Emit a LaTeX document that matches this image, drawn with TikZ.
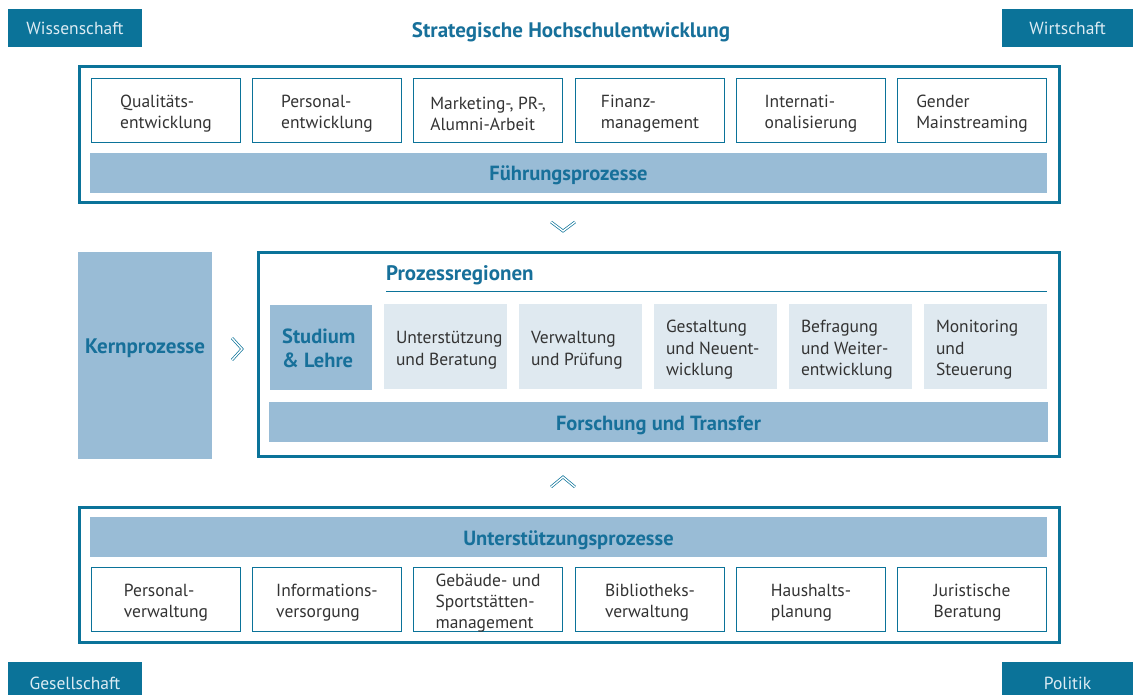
\documentclass[tikz,border=0pt]{standalone}
\usepackage{fontspec}
\setmainfont{PT Sans}
\definecolor{teal1}{HTML}{0B7399}
\definecolor{lblue}{HTML}{99BCD6}
\definecolor{llblue}{HTML}{DFE9F0}
\definecolor{txt}{HTML}{333333}
\definecolor{head}{HTML}{17709A}
\definecolor{lbltxt}{HTML}{DCEBF3}
\tikzset{
  lbl/.style={fill=teal1, text=lbltxt, minimum width=134pt, minimum height=38pt, anchor=north west, inner sep=0pt, outer sep=0pt, font=\fontsize{17.5}{21}\selectfont},
  wbox/.style={draw=teal1, line width=1pt, fill=white, minimum width=149pt, minimum height=64pt, anchor=north west, inner sep=0pt, outer sep=0pt},
  wtext/.style={align=left, text=txt, inner sep=0pt, outer sep=0pt, font=\fontsize{17.5}{21}\selectfont},
  gfill/.style={fill=llblue, minimum width=123pt, minimum height=85pt, inner sep=0pt, outer sep=0pt, anchor=north west},
  gtext/.style={anchor=west, align=left, text=txt, inner sep=0pt, outer sep=0pt, font=\fontsize{17.5}{21.5}\selectfont},
  bar/.style={fill=lblue, text=head, anchor=north west, inner sep=0pt, outer sep=0pt, text height=16pt, text depth=0pt, font=\bfseries\fontsize{20.5}{24}\selectfont},
  frame/.style={draw=teal1, line width=3pt, fill=none, anchor=north west, inner sep=0pt, outer sep=0pt},
  chev/.style={draw=teal1, double=white, double distance=1.4pt, line width=0.7pt, line join=miter},
  headtxt/.style={text=head, font=\bfseries\fontsize{21}{24}\selectfont, inner sep=0pt}
}
\begin{document}
\begin{tikzpicture}[x=1pt,y=-1pt]
\useasboundingbox (0,0) rectangle (1141,695);
% corner labels
\node[lbl] (wiss) at (8,9) {Wissenschaft};
\node[lbl, minimum width=131pt] (wirt) at (1002,9) {Wirtschaft};
\node[lbl, minimum height=42pt] (ges) at (8,662) {Gesellschaft};
\node[lbl, minimum width=131pt, minimum height=42pt] (pol) at (1002,662) {Politik};
\node[headtxt] (title) at (571,32) {Strategische Hochschulentwicklung};
% top frame
\node[frame, minimum width=980pt, minimum height=136pt] (topframe) at (79.5,66.5) {};
\node[wbox] (t1) at (91.5,78.5) {};
\node[wtext] (t1t) at ([yshift=-3.5pt]t1.center) {Qualitäts-\\entwicklung};
\node[wbox] (t2) at (252.5,78.5) {};
\node[wtext] (t2t) at ([yshift=-3.5pt]t2.center) {Personal-\\entwicklung};
\node[wbox] (t3) at (413.5,78.5) {};
\node[wtext] (t3t) at ([yshift=-3.5pt]t3.center) {Marketing-, PR-,\\Alumni-Arbeit};
\node[wbox] (t4) at (575.5,78.5) {};
\node[wtext] (t4t) at ([yshift=-3.5pt]t4.center) {Finanz-\\management};
\node[wbox] (t5) at (736.5,78.5) {};
\node[wtext] (t5t) at ([yshift=-3.5pt]t5.center) {Internati-\\onalisierung};
\node[wbox] (t6) at (897.5,78.5) {};
\node[wtext] (t6t) at ([yshift=-3.5pt]t6.center) {Gender\\Mainstreaming};
\node[bar, minimum width=957pt, minimum height=40pt] (fp) at (90,153) {Führungsprozesse};
% chevron down
\draw[chev] (551,222) -- (563,231) -- (575,222);
% Kernprozesse
\node[fill=lblue, minimum width=134pt, minimum height=207pt, anchor=north west, inner sep=0pt, outer sep=0pt] (kern) at (78,252) {};
\node[headtxt] (kerntxt) at (145,348) {Kernprozesse};
\draw[chev] (232,338) -- (242,349) -- (232,360);
% middle frame
\node[frame, minimum width=801pt, minimum height=204pt] (midframe) at (258.5,252.5) {};
\node[headtxt, anchor=base west] (preg) at (386,280) {Prozessregionen};
\coordinate (ulA) at (386,291);
\coordinate (ulB) at (1047,291);
\draw[teal1, line width=1pt] (ulA) -- (ulB);
\node[fill=lblue, minimum width=102pt, minimum height=85pt, anchor=north west, inner sep=0pt, outer sep=0pt] (stud) at (270,305) {};
\node[headtxt, anchor=west, align=left, font=\bfseries\fontsize{20.5}{24}\selectfont] (studt) at ([xshift=12pt,yshift=-1pt]stud.west) {Studium\\\& Lehre};
\node[gfill] (g1) at (384,304) {};
\node[gtext] (g1t) at ([xshift=12pt,yshift=-3.5pt]g1.west) {Unterstützung\\und Beratung};
\node[gfill] (g2) at (519,304) {};
\node[gtext] (g2t) at ([xshift=12pt,yshift=-3.5pt]g2.west) {Verwaltung\\und Prüfung};
\node[gfill] (g3) at (654,304) {};
\node[gtext] (g3t) at ([xshift=12pt,yshift=-3.5pt]g3.west) {Gestaltung\\und Neuent-\\wicklung};
\node[gfill] (g4) at (789,304) {};
\node[gtext] (g4t) at ([xshift=12pt,yshift=-3.5pt]g4.west) {Befragung\\und Weiter-\\entwicklung};
\node[gfill] (g5) at (924,304) {};
\node[gtext] (g5t) at ([xshift=12pt,yshift=-3.5pt]g5.west) {Monitoring\\und\\Steuerung};
\node[bar, minimum width=779pt, minimum height=40pt] (ft) at (269,402) {Forschung und Transfer};
% chevron up
\draw[chev] (551,487) -- (563,477) -- (575,487);
% bottom frame
\node[frame, minimum width=980pt, minimum height=135pt] (botframe) at (79.5,507.5) {};
\node[bar, minimum width=957pt, minimum height=40pt] (up) at (90,517) {Unterstützungsprozesse};
\node[wbox] (b1) at (91.5,567.5) {};
\node[wtext] (b1t) at ([yshift=-3.5pt]b1.center) {Personal-\\verwaltung};
\node[wbox] (b2) at (252.5,567.5) {};
\node[wtext] (b2t) at ([yshift=-3.5pt]b2.center) {Informations-\\versorgung};
\node[wbox] (b3) at (413.5,567.5) {};
\node[wtext] (b3t) at ([yshift=-3.5pt]b3.center) {Gebäude- und\\Sportstätten-\\management};
\node[wbox] (b4) at (575.5,567.5) {};
\node[wtext] (b4t) at ([yshift=-3.5pt]b4.center) {Bibliotheks-\\verwaltung};
\node[wbox] (b5) at (736.5,567.5) {};
\node[wtext] (b5t) at ([yshift=-3.5pt]b5.center) {Haushalts-\\planung};
\node[wbox] (b6) at (897.5,567.5) {};
\node[wtext] (b6t) at ([yshift=-3.5pt]b6.center) {Juristische\\Beratung};
\end{tikzpicture}
\end{document}
